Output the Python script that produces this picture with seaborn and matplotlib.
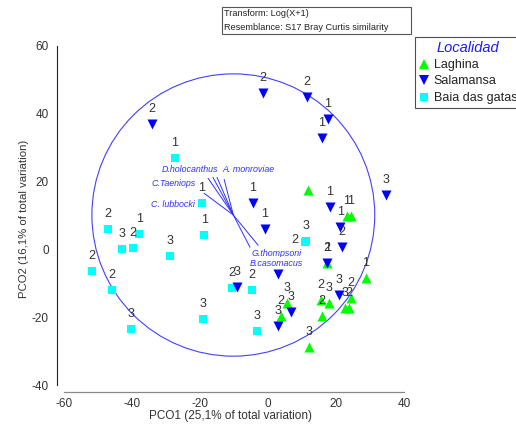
import numpy as np
import pandas as pd
import matplotlib
matplotlib.use("Agg")
import matplotlib.pyplot as plt
import seaborn as sns
from matplotlib.patches import Circle, Rectangle
from matplotlib.lines import Line2D

# ---------------- data ----------------
laghina_x = [11.8, 23.2, 24.4, 17.4, 28.8, 15.6, 17.9, 15.9, 24.4, 22.6, 23.8, 5.6, 3.8, 12.1]
laghina_y = [17.4, 9.7, 9.7, -4.1, -8.5, -15.0, -15.9, -19.7, -14.4, -17.4, -17.4, -15.9, -19.7, -28.8]
laghina_lab = ["", "1", "1", "1", "1", "2", "3", "2", "2", "3", "2", "3", "2", "3"]

salamansa_x = [-34.1, -1.5, 11.5, 17.6, 15.9, 34.7, -4.4, -0.9, 18.2, 21.2, 21.8, 17.4, -9.1, 2.9, 20.9, 6.8, 2.9]
salamansa_y = [36.8, 46.2, 45.0, 38.5, 32.9, 15.9, 13.5, 5.9, 12.4, 6.5, 0.6, -4.1, -11.2, -7.4, -13.5, -18.5, -22.6]
salamansa_lab = ["2", "2", "2", "1", "1", "3", "1", "1", "1", "1", "2", "2", "3", "2", "3", "3", "3"]

baia_x = [-27.4, -19.4, -18.8, -47.1, -37.9, -42.9, -39.7, -28.8, -51.8, -45.9, -40.3, -19.1, -10.6, -4.7, -3.2, 11.2, 11.0]
baia_y = [26.8, 13.5, 4.1, 5.9, 4.4, 0.0, 0.3, -2.1, -6.5, -12.1, -23.5, -20.6, -11.5, -12.1, -24.1, 2.4, 2.2]
baia_lab = ["1", "1", "1", "2", "1", "3", "2", "3", "2", "2", "3", "3", "2", "2", "3", "3", "2"]

groups = ["Laghina", "Salamansa", "Baia das gatas"]

# vector overlay (PRIMER style)
vec_names = ["D.holocanthus", "C.Taeniops", "C. lubbocki", "A. monroviae", "G.thompsoni", "B.casomacus"]
vec_end_x = [-16.2, -17.6, -18.8, -12.9, -5.3, -2.9]
vec_end_y = [21.2, 20.9, 16.5, 20.6, 0.6, 1.2]
vec_lab_x = [-22.9, -27.9, -27.9, -5.6, 2.4, 2.4]
vec_lab_y = [23.5, 19.4, 13.2, 23.5, -1.2, -4.1]
vec_extra_x = [-15.0]
vec_extra_y = [21.2]

# ---------------- styling ----------------
sns.set_theme(style="white")
plt.rcParams["font.family"] = ["Liberation Sans", "DejaVu Sans"]
plt.rcParams["axes.unicode_minus"] = False

colors = {"Laghina": "#00ff00", "Salamansa": "#0000ff", "Baia das gatas": "#00ffff"}
markers = {"Laghina": "^", "Salamansa": "v", "Baia das gatas": "s"}
sizes = {"Laghina": 52, "Salamansa": 52, "Baia das gatas": 36}

df = pd.concat([
    pd.DataFrame({"x": laghina_x, "y": laghina_y, "lab": laghina_lab, "Localidad": "Laghina"}),
    pd.DataFrame({"x": salamansa_x, "y": salamansa_y, "lab": salamansa_lab, "Localidad": "Salamansa"}),
    pd.DataFrame({"x": baia_x, "y": baia_y, "lab": baia_lab, "Localidad": "Baia das gatas"}),
], ignore_index=True)

W, H = 516, 430
fig = plt.figure(figsize=(W / 100, H / 100), dpi=100)
ax = fig.add_axes([57 / W, 1 - 392 / H, (404 - 57) / W, (392 - 45.7) / H])
ax.set_xlim(-62.06, 40.0)
ax.set_ylim(-42.06, 60.0)

# draw order: green, cyan, blue
for g in ["Laghina", "Baia das gatas", "Salamansa"]:
    sub = df[df["Localidad"] == g]
    sns.scatterplot(data=sub, x="x", y="y", ax=ax, color=colors[g], marker=markers[g],
                    s=sizes[g], linewidth=0, legend=False, zorder=3)

# sample labels
for _, r in df.iterrows():
    if not r["lab"]:
        continue
    dx, dy = 0, 10.8
    if r["Localidad"] == "Baia das gatas" and r["x"] == 11.0:
        dx, dy = -7.5, 1.0
    ax.annotate(r["lab"], (r["x"], r["y"]), xytext=(dx, dy), textcoords="offset points",
                ha="center", va="center", fontsize=9, color="#333333", zorder=4)

# circle and vectors
cx, cy, rad = -10.2, 10.1, 41.6
ax.add_patch(Circle((cx, cy), rad, fill=False, ec="#4040ff", lw=0.8, zorder=2))
for ex, ey in zip(vec_end_x + vec_extra_x, vec_end_y + vec_extra_y):
    ax.plot([cx, ex], [cy, ey], color="#3030ff", lw=0.7, zorder=2)
for name, lx, ly in zip(vec_names, vec_lab_x, vec_lab_y):
    ax.text(lx, ly, name, ha="center", va="center", fontsize=6.4, style="italic",
            color="#3030ff", zorder=5,
            bbox=dict(boxstyle="square,pad=0.15", fc="white", ec="none"))

# axes styling
for s in ["top", "right"]:
    ax.spines[s].set_visible(False)
ax.spines["left"].set_bounds(-40, 60)
ax.spines["bottom"].set_bounds(-60, 40)
ax.spines["left"].set_color("#222222")
ax.spines["bottom"].set_color("#888888")
ax.spines["left"].set_linewidth(0.8)
ax.spines["bottom"].set_linewidth(0.9)
ax.set_xticks([-60, -40, -20, 0, 20, 40])
ax.set_yticks([-40, -20, 0, 20, 40, 60])
ax.tick_params(axis="x", direction="inout", length=6, width=0.8, color="#888888",
               labelsize=8.5, labelcolor="#333333", pad=1)
ax.tick_params(axis="y", direction="out", length=4, width=0.8, color="#222222",
               labelsize=8.5, labelcolor="#333333", pad=2)
ax.set_xlabel("PCO1 (25,1% of total variation)", fontsize=8.5, color="#333333", labelpad=0.5)
ax.set_ylabel("PCO2 (16,1% of total variation)", fontsize=8.2, color="#333333", labelpad=2)

# info box
fig.patches.append(Rectangle((222 / W, 1 - 34 / H), (411 - 222) / W, 27 / H,
                             transform=fig.transFigure, fill=False, ec="#555555", lw=0.8))
fig.text(224 / W, 1 - 14 / H, "Transform: Log(X+1)", fontsize=6.6, color="#222222", va="center")
fig.text(224 / W, 1 - 27 / H, "Resemblance: S17 Bray Curtis similarity", fontsize=6.6,
         color="#222222", va="center")

# legend
handles = [Line2D([], [], linestyle="none", marker=markers[g], color=colors[g],
                  markersize=7 if g != "Baia das gatas" else 6, markeredgewidth=0)
           for g in groups]
leg = fig.legend(handles, groups, title="Localidad", loc="upper left",
                 bbox_to_anchor=(415 / W, 1 - 37 / H), frameon=True, fancybox=False,
                 fontsize=9, handlelength=0.8, handletextpad=0.4, borderpad=0.3,
                 labelspacing=0.35, borderaxespad=0)
leg.get_frame().set_edgecolor("#222222")
leg.get_frame().set_linewidth(0.8)
leg.get_title().set_fontsize(10.5)
leg.get_title().set_style("italic")
leg.get_title().set_color("#1a1aff")
for t in leg.get_texts():
    t.set_color("#222222")

fig.savefig("out.png", dpi=100)
